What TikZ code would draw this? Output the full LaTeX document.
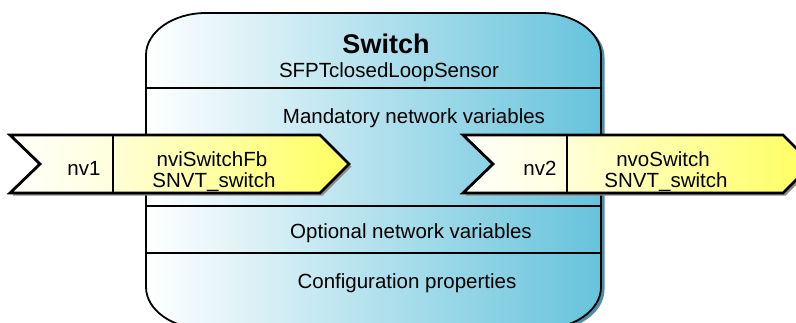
\documentclass[tikz,border=0pt]{standalone}
\usepackage{fontspec}
\setmainfont{Liberation Sans}
\definecolor{boxmid}{RGB}{200,236,244}
\definecolor{boxright}{RGB}{102,195,220}
\definecolor{boxshadow}{RGB}{80,140,165}
\definecolor{creamA}{RGB}{255,255,250}
\definecolor{creamB}{RGB}{255,255,222}
\definecolor{yelA}{RGB}{255,255,215}
\definecolor{yelB}{RGB}{255,255,95}
\begin{document}
\begin{tikzpicture}[x=1pt,y=-1pt,
  lbl/.style={font=\fontsize{20.5}{24}\selectfont, anchor=base, inner sep=0pt},
  ttl/.style={font=\fontsize{27}{30}\selectfont\bfseries, anchor=base, inner sep=0pt},
  boxline/.style={line width=1.8pt, black},
  arrowline/.style={line width=2.8pt, black, line join=miter},
  leftpart/.style={left color=creamA, right color=creamB},
  yelpart/.style={left color=yelA, right color=yelB},
  ashadow/.style={fill=black!45},
]
\useasboundingbox (0,0) rectangle (796,322);
\clip (0,0) rectangle (796,322);
\def\boxpath{(146,55) .. controls (146,31.8) and (172.9,13) .. (206,13) -- (541,13) .. controls (574.1,13) and (601,31.8) .. (601,55) -- (601,287) .. controls (601,310.2) and (574.1,329) .. (541,329) -- (206,329) .. controls (172.9,329) and (146,310.2) .. (146,287) -- cycle}
% box shadow
\fill[boxshadow, shift={(3.5,2.5)}] \boxpath;
% box body
\shade[left color=white, middle color=boxmid, right color=boxright] \boxpath;
\draw[boxline] \boxpath;
% separators
\coordinate (s1l) at (146,88);  \coordinate (s1r) at (601,88);
\coordinate (s2l) at (146,206); \coordinate (s2r) at (601,206);
\coordinate (s3l) at (146,253); \coordinate (s3r) at (601,253);
\draw[line width=1.5pt] (s1l) -- (s1r);
\draw[line width=1.5pt] (s2l) -- (s2r);
\draw[line width=1.5pt] (s3l) -- (s3r);
% texts in box
\node[ttl] (title) at (386,53) {Switch};
\node[lbl] (subtitle) at (389,77) {SFPTclosedLoopSensor};
\node[lbl] (mand) at (414,123) {Mandatory network variables};
\node[lbl] (opt) at (411,238) {Optional network variables};
\node[lbl] (conf) at (407,288) {Configuration properties};
% left arrow
\fill[ashadow, shift={(2.5,2.5)}] (10,135) -- (320,135) -- (349,164) -- (320,193) -- (10,193) -- (40,164) -- cycle;
\shade[leftpart] (10,135) -- (113,135) -- (113,193) -- (10,193) -- (40,164) -- cycle;
\shade[yelpart] (113,135) -- (320,135) -- (349,164) -- (320,193) -- (113,193) -- cycle;
\draw[arrowline] (10,135) -- (320,135) -- (349,164) -- (320,193) -- (10,193) -- (40,164) -- cycle;
\coordinate (d1t) at (113,135); \coordinate (d1b) at (113,193);
\draw[arrowline] (d1t) -- (d1b);
\node[lbl] (nv1) at (84,175) {nv1};
\node[lbl] (inname) at (212,166) {nviSwitchFb};
\node[lbl] (intype) at (214,187) {SNVT\_switch};
% right arrow
\fill[ashadow, shift={(2.5,2.5)}] (463,135) -- (783,135) -- (812,164) -- (783,193) -- (463,193) -- (493,164) -- cycle;
\shade[leftpart] (463,135) -- (567,135) -- (567,193) -- (463,193) -- (493,164) -- cycle;
\shade[yelpart] (567,135) -- (783,135) -- (812,164) -- (783,193) -- (567,193) -- cycle;
\draw[arrowline] (463,135) -- (783,135) -- (812,164) -- (783,193) -- (463,193) -- (493,164) -- cycle;
\coordinate (d2t) at (567,135); \coordinate (d2b) at (567,193);
\draw[line width=1.6pt] (d2t) -- (d2b);
\node[lbl] (nv2) at (540,175) {nv2};
\node[lbl] (outname) at (663,166) {nvoSwitch};
\node[lbl] (outtype) at (666,187) {SNVT\_switch};
\end{tikzpicture}
\end{document}
